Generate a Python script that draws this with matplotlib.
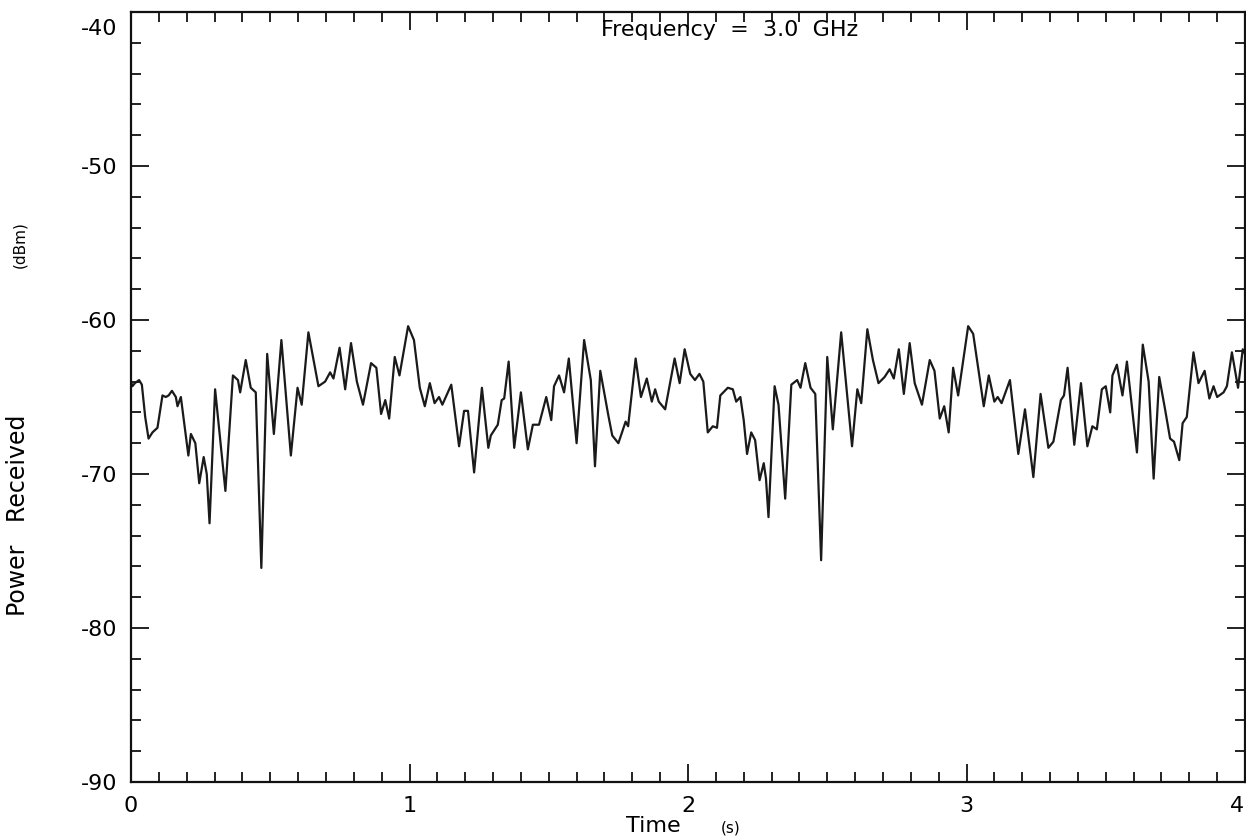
import numpy as np
import matplotlib
matplotlib.use('Agg')
import matplotlib.pyplot as plt
import matplotlib.transforms as mtrans

plt.rcParams['font.family'] = 'DejaVu Sans'

# time (s) and received power (dBm)
the_time = [0.000, 0.005, 0.014, 0.029, 0.039, 0.051, 0.063, 0.077, 0.095, 0.113,
            0.125, 0.135, 0.147, 0.161, 0.167, 0.179, 0.206, 0.215, 0.231, 0.245,
            0.261, 0.272, 0.282, 0.302, 0.339, 0.366, 0.384, 0.392, 0.412, 0.430,
            0.448, 0.468, 0.489, 0.513, 0.540, 0.574, 0.598, 0.613, 0.637, 0.673,
            0.697, 0.715, 0.727, 0.749, 0.769, 0.790, 0.811, 0.833, 0.862, 0.881,
            0.898, 0.913, 0.927, 0.947, 0.964, 0.995, 1.016, 1.037, 1.055, 1.073,
            1.090, 1.106, 1.118, 1.150, 1.178, 1.196, 1.210, 1.232, 1.260, 1.283,
            1.292, 1.317, 1.331, 1.340, 1.356, 1.376, 1.400, 1.425, 1.443, 1.465,
            1.491, 1.509, 1.519, 1.537, 1.555, 1.572, 1.600, 1.627, 1.651, 1.666,
            1.685, 1.714, 1.728, 1.750, 1.776, 1.785, 1.812, 1.831, 1.852, 1.870,
            1.882, 1.895, 1.918, 1.952, 1.970, 1.988, 2.008, 2.025, 2.041, 2.055,
            2.071, 2.089, 2.104, 2.116, 2.143, 2.161, 2.173, 2.188, 2.200, 2.212,
            2.227, 2.241, 2.257, 2.272, 2.280, 2.289, 2.311, 2.325, 2.349, 2.371,
            2.392, 2.404, 2.421, 2.440, 2.457, 2.478, 2.500, 2.520, 2.550, 2.589,
            2.608, 2.622, 2.644, 2.664, 2.684, 2.706, 2.724, 2.739, 2.757, 2.775,
            2.796, 2.814, 2.840, 2.868, 2.885, 2.904, 2.920, 2.936, 2.952, 2.970,
            3.006, 3.024, 3.062, 3.080, 3.100, 3.112, 3.126, 3.156, 3.186, 3.210,
            3.240, 3.266, 3.294, 3.312, 3.339, 3.350, 3.363, 3.387, 3.411, 3.434,
            3.452, 3.468, 3.486, 3.500, 3.516, 3.524, 3.540, 3.560, 3.576, 3.612,
            3.633, 3.654, 3.672, 3.692, 3.713, 3.731, 3.745, 3.764, 3.776, 3.791,
            3.815, 3.833, 3.855, 3.872, 3.887, 3.900, 3.923, 3.935, 3.953, 3.975,
            3.992, 4.000]
the_power = [-64.0, -64.3, -64.1, -63.9, -64.2, -66.3, -67.7, -67.3, -67.0, -64.9,
             -65.0, -64.9, -64.6, -65.0, -65.6, -65.0, -68.8, -67.4, -68.0, -70.6,
             -68.9, -70.0, -73.2, -64.5, -71.1, -63.6, -63.9, -64.7, -62.6, -64.4,
             -64.7, -76.1, -62.2, -67.4, -61.3, -68.8, -64.4, -65.5, -60.8, -64.3,
             -64.0, -63.4, -63.8, -61.8, -64.5, -61.5, -64.0, -65.5, -62.8, -63.1,
             -66.1, -65.2, -66.4, -62.4, -63.6, -60.4, -61.3, -64.4, -65.6, -64.1,
             -65.4, -65.0, -65.5, -64.2, -68.2, -65.9, -65.9, -69.9, -64.4, -68.3,
             -67.5, -66.8, -65.2, -65.1, -62.7, -68.3, -64.7, -68.4, -66.8, -66.8,
             -65.0, -66.5, -64.3, -63.6, -64.7, -62.5, -68.0, -61.3, -63.9, -69.5,
             -63.3, -66.2, -67.5, -68.0, -66.6, -66.9, -62.5, -65.0, -63.8, -65.3,
             -64.5, -65.3, -65.8, -62.5, -64.1, -61.9, -63.5, -63.9, -63.5, -64.0,
             -67.3, -66.9, -67.0, -64.9, -64.4, -64.5, -65.3, -65.0, -66.5, -68.7,
             -67.3, -67.8, -70.4, -69.3, -70.3, -72.8, -64.3, -65.5, -71.6, -64.2,
             -63.9, -64.4, -62.8, -64.4, -64.8, -75.6, -62.4, -67.1, -60.8, -68.2,
             -64.5, -65.4, -60.6, -62.6, -64.1, -63.7, -63.2, -63.8, -61.9, -64.8,
             -61.5, -64.1, -65.5, -62.6, -63.3, -66.4, -65.6, -67.3, -63.1, -64.9,
             -60.4, -60.9, -65.6, -63.6, -65.3, -65.0, -65.4, -63.9, -68.7, -65.8,
             -70.2, -64.8, -68.3, -67.9, -65.2, -64.9, -63.1, -68.1, -64.1, -68.2,
             -66.9, -67.1, -64.5, -64.3, -66.0, -63.6, -62.9, -64.9, -62.7, -68.6,
             -61.6, -64.0, -70.3, -63.7, -65.8, -67.7, -67.9, -69.1, -66.7, -66.3,
             -62.1, -64.1, -63.3, -65.1, -64.3, -65.0, -64.7, -64.3, -62.1, -64.4,
             -61.9, -62.2]

xticks = [0, 1, 2, 3, 4]
xticklabels = ['0', '1', '2', '3', '4']
yticks = [-90, -80, -70, -60, -50, -40]
yticklabels = ['-90', '-80', '-70', '-60', '-50', '-40']

fig = plt.figure(figsize=(12.46, 8.39), dpi=100)
ax1 = fig.add_axes([131/1246., 1 - 782/839., (1245 - 131)/1246., (782 - 12)/839.])
ax1.plot(the_time, the_power, color='#1a1a1a', lw=1.6, solid_joinstyle='round')
ax1.set_xlim(0, 4)
ax1.set_ylim(-90, -40)

for sp in ax1.spines.values():
    sp.set_linewidth(1.6)
    sp.set_color('#111111')

ax1.set_xticks(xticks)
ax1.set_xticklabels(xticklabels)
ax1.set_yticks(yticks)
ax1.set_yticklabels(yticklabels)
ax1.set_xticks(np.arange(0, 4.01, 0.1), minor=True)
ax1.set_yticks(np.arange(-90, -39, 2), minor=True)
ax1.tick_params(which='both', direction='in', top=True, right=True,
                width=1.3, color='#111111')
ax1.tick_params(which='major', length=13, labelsize=16, pad=10)
ax1.tick_params(which='minor', length=7)

# the top label sits lower than its tick in the original
ylabs = ax1.get_yticklabels()
ylabs[-1].set_transform(ylabs[-1].get_transform() +
                        mtrans.ScaledTranslation(0, -0.15, fig.dpi_scale_trans))
# last time label hugs the right edge
xlabs = ax1.get_xticklabels()
xlabs[-1].set_ha('right')
xlabs[-1].set_transform(xlabs[-1].get_transform() +
                        mtrans.ScaledTranslation(-0.01, 0, fig.dpi_scale_trans))

ax1.text(2.15, -40.5, 'Frequency  =  3.0  GHz', ha='center', va='top', fontsize=16)

fig.text(653/1246., 1 - 826/839., 'Time', ha='center', va='center', fontsize=16)
fig.text(731/1246., 1 - 828/839., '(s)', ha='center', va='center', fontsize=11)
fig.text(18/1246., 1 - 515/839., 'Power   Received', ha='center', va='center',
         rotation=90, fontsize=17)
fig.text(20/1246., 1 - 245/839., '(dBm)', ha='center', va='center',
         rotation=90, fontsize=11)

fig.savefig('out.png', dpi=100)
